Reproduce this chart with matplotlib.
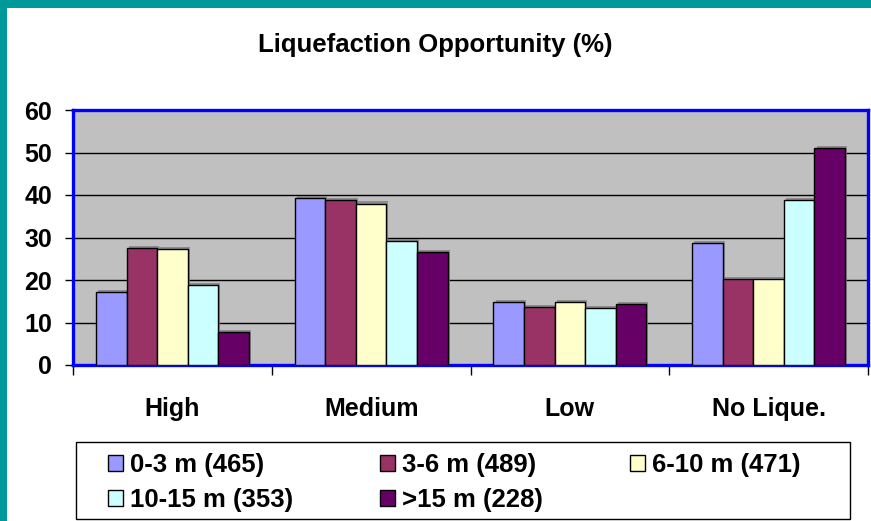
import matplotlib
matplotlib.use("Agg")
import matplotlib.pyplot as plt
import matplotlib.patheffects as pe
from matplotlib.patches import Rectangle, Patch
import numpy as np

plt.rcParams["font.family"] = ["Liberation Sans", "DejaVu Sans"]
plt.rcParams["font.weight"] = "bold"

categories = ["High", "Medium", "Low", "No Lique."]
series_labels = ["0-3 m (465)", "3-6 m (489)", "6-10 m (471)", "10-15 m (353)", ">15 m (228)"]
d0_3 = [17.1, 39.2, 14.8, 28.6]
d3_6 = [27.5, 38.8, 13.6, 20.2]
d6_10 = [27.2, 38.0, 14.8, 20.2]
d10_15 = [18.8, 29.2, 13.3, 38.8]
d15 = [7.7, 26.6, 14.4, 51.1]
yticks = [0, 10, 20, 30, 40, 50, 60]

colors = ["#9999FF", "#993366", "#FFFFCC", "#CCFFFF", "#660066"]

W, H = 871, 521
fig = plt.figure(figsize=(W / 100, H / 100), dpi=100)
fig.patch.set_facecolor("white")

# teal frame strips (top and left)
fig.patches.append(Rectangle((0, 1 - 8 / H), 1, 8 / H, transform=fig.transFigure,
                             facecolor="#009999", edgecolor="none", zorder=0))
fig.patches.append(Rectangle((0, 0), 7 / W, 1, transform=fig.transFigure,
                             facecolor="#009999", edgecolor="none", zorder=0))

ax = fig.add_axes([73 / W, (H - 365) / H, 795 / W, 255 / H])
ax.set_facecolor("#C0C0C0")

data = [d0_3, d3_6, d6_10, d10_15, d15]
n = len(data)
bw = 1 / 6.5  # excel gap width 150%
x = np.arange(len(categories))
for i, (vals, col) in enumerate(zip(data, colors)):
    bars = ax.bar(x + (i - (n - 1) / 2) * bw, vals, width=bw, color=col,
                  edgecolor="black", linewidth=1.0, zorder=3)
    for b in bars:
        b.set_path_effects([pe.SimplePatchShadow(offset=(1.5, 1.5), shadow_rgbFace="#808080", alpha=0.8),
                            pe.Normal()])

ax.set_xlim(-0.5, len(categories) - 0.5)
ax.set_ylim(0, 60)
ax.set_yticks(yticks)
ax.yaxis.grid(True, color="black", linewidth=1.0, zorder=0)
ax.set_axisbelow(True)
ax.tick_params(axis="y", direction="out", length=6, width=1, labelsize=18, pad=9, colors="black")

ax.set_xticks(np.arange(-0.5, len(categories), 1.0))
ax.set_xticklabels([])
ax.tick_params(axis="x", which="major", direction="out", length=7, width=1)
ax.set_xticks(x, minor=True)
ax.set_xticklabels(categories, minor=True, fontsize=18, fontweight="bold")
ax.tick_params(axis="x", which="minor", length=0, pad=23)

for s in ax.spines.values():
    s.set_color("#0000FF")
    s.set_linewidth(2.4)

fig.text(0.5, 1 - 45 / H, "Liquefaction Opportunity (%)", ha="center", va="center",
         fontsize=18.5, fontweight="bold")

# legend box
fig.patches.append(Rectangle((76 / W, 2 / H), (850 - 76) / W, (519 - 442) / H,
                             transform=fig.transFigure, facecolor="white",
                             edgecolor="black", linewidth=1.0, zorder=1))

proxies = [Patch(facecolor=c, edgecolor="black", linewidth=1.0) for c in colors]
order = [0, 3, 1, 4, 2]
leg = fig.legend([proxies[k] for k in order], [series_labels[k] for k in order],
                 ncol=3, loc="center left",
                 bbox_to_anchor=(108 / W, 0, (800 - 108) / W, (519 - 442) / H),
                 mode="expand", frameon=False,
                 prop={"size": 18.5, "weight": "bold"}, handlelength=0.6, handleheight=0.6,
                 handletextpad=0.25, borderpad=0, labelspacing=0.45, borderaxespad=0)
leg.set_zorder(2)

fig.savefig("out.png", dpi=100)
